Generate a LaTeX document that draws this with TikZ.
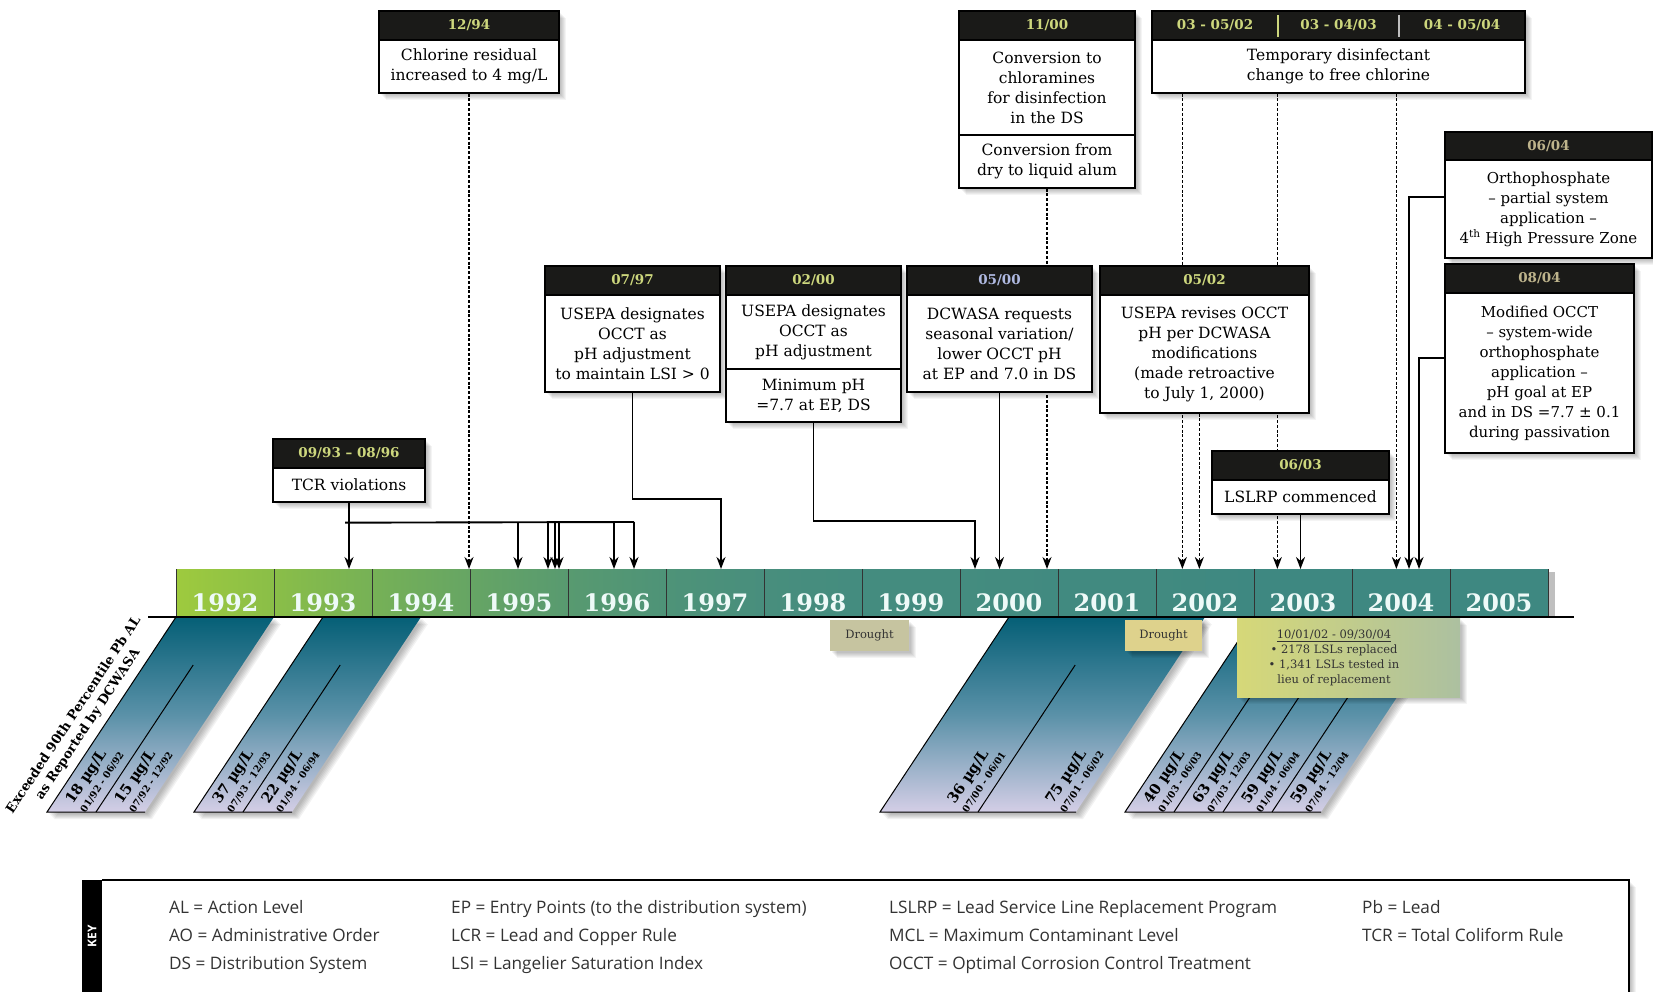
\documentclass[tikz,border=0pt]{standalone}
\usepackage{fontspec}
\setmainfont{DejaVu Serif}
\newfontfamily\keyfont{Open Sans}
\usetikzlibrary{arrows.meta,calc}
\pgfdeclarelayer{bg}
\pgfsetlayers{bg,main}
\definecolor{hdr}{RGB}{26,26,24}
\definecolor{hdrtxt}{RGB}{205,215,125}
\definecolor{hdrblue}{RGB}{175,185,225}
\definecolor{hdrmuted}{RGB}{190,180,140}
\definecolor{yr}{RGB}{238,250,248}
\definecolor{c0}{RGB}{158,202,62}
\definecolor{c1}{RGB}{138,190,72}
\definecolor{c2}{RGB}{118,177,86}
\definecolor{c3}{RGB}{102,165,100}
\definecolor{c4}{RGB}{88,154,112}
\definecolor{c5}{RGB}{78,147,120}
\definecolor{c6}{RGB}{72,142,125}
\definecolor{c7}{RGB}{68,140,127}
\definecolor{c8}{RGB}{65,138,128}
\definecolor{c9}{RGB}{62,136,129}
\definecolor{pTop}{RGB}{5,95,118}
\definecolor{pMid}{RGB}{90,145,168}
\definecolor{pBot}{RGB}{212,206,230}
\definecolor{dr1}{RGB}{198,196,160}
\definecolor{dr2}{RGB}{222,210,140}
\definecolor{lslL}{RGB}{214,216,120}
\definecolor{lslR}{RGB}{172,192,160}
\tikzset{
  hdrbox/.style={draw=black,line width=1.3pt,fill=hdr,inner sep=0pt,font=\fontsize{13.5}{15}\selectfont\bfseries},
  bodybox/.style={draw=black,line width=1.3pt,fill=white,inner sep=0pt,align=center,font=\fontsize{15.5}{20}\selectfont},
  hdrtext/.style={inner sep=0pt,text=hdrtxt,font=\fontsize{13.5}{15}\selectfont\bfseries},
  conn/.style={line width=1.9pt,-{Stealth[length=12pt,width=9pt]}},
  dconn/.style={line width=1.7pt,dash pattern=on 3pt off 1.8pt,-{Stealth[length=12pt,width=9pt]}},
  plainline/.style={line width=1.9pt},
  yeartxt/.style={anchor=base,inner sep=0pt,text=yr,font=\fontsize{24}{24}\selectfont\bfseries},
  bandtxt/.style={rotate=56.5,align=left,inner sep=0pt,font=\fontsize{14.5}{15}\selectfont\bfseries},
  droughtbox/.style={inner sep=0pt,font=\fontsize{11.5}{13}\selectfont,text=black!80},
  keytxt/.style={anchor=base west,inner sep=0pt,text=black!80,font=\keyfont\fontsize{17.2}{18}\selectfont},
}
\newcommand\softshadow[4]{%
  \foreach \sd in {2,...,7}{%
    \fill[black,opacity=0.045] ({#1+\sd},{#2+\sd}) rectangle ({#3+\sd},{#4+\sd});
  }%
}
\newcommand\evbox[9]{%
  \node[hdrbox,text=#7,minimum width={(#3-#2)*1pt},minimum height={(#5-#4)*1pt}] (#1h) at ({(#2+#3)/2},{(#4+#5)/2}) {#8};
  \node[bodybox,minimum width={(#3-#2)*1pt},minimum height={(#6-#5)*1pt}] (#1) at ({(#2+#3)/2},{(#5+#6)/2}) {#9};
}
\newcommand\para[2]{%
  \foreach \sd in {2,...,7}{%
    \fill[black,opacity=0.05] ({#1+\sd},{617+\sd}) -- ({#2+\sd},{617+\sd}) -- ({#2-129+\sd},{812+\sd}) -- ({#1-129+\sd},{812+\sd}) -- cycle;
  }%
  \path[top color=pTop,bottom color=pBot,middle color=pMid] (#1,617) -- (#2,617) -- ({#2-129},812) -- ({#1-129},812) -- cycle;
  \draw[line width=1pt] (#1,617) -- ({#1-129},812) -- ({#2-129},812);
}
\newcommand\pdiv[1]{\draw[line width=1pt] ({#1-31.8},665) -- ({#1-129},812);}
\newcommand\band[4]{%
  \node[bandtxt] (#1) at ({#2-130.5},777) {#3~µg/L\\{\fontsize{9.5}{11}\selectfont #4}};
}
\begin{document}
\begin{tikzpicture}[x=1pt,y=-1pt]
\useasboundingbox (0,0) rectangle (1653,992);

% ---------- event boxes ----------
\softshadow{379}{11}{559}{93}
\evbox{A}{379}{559}{11}{40}{93}{hdrtxt}{12/94}{Chlorine residual\\increased to 4 mg/L}

\softshadow{959}{11}{1135}{188}
\evbox{B}{959}{1135}{11}{40}{135}{hdrtxt}{11/00}{Conversion to\\chloramines\\for disinfection\\in the DS}
\node[bodybox,minimum width=176pt,minimum height=53pt] (B2) at (1047,161.5) {Conversion from\\dry to liquid alum};

\softshadow{1152}{11}{1525}{93}
\evbox{C}{1152}{1525}{11}{40}{93}{hdrtxt}{}{Temporary disinfectant\\change to free chlorine}
\node[hdrtext] (Ch1) at (1215,25.5) {03 - 05/02};
\node[hdrtext] (Ch2) at (1338.5,25.5) {03 - 04/03};
\node[hdrtext] (Ch3) at (1462,25.5) {04 - 05/04};
\draw[hdrtxt,line width=1.2pt] (1278,15) -- (1278,37);
\draw[white!75!black,line width=1.2pt] (1399,15) -- (1399,37);

\begin{scope}[bodybox/.append style={font=\fontsize{15}{20}\selectfont}]
\softshadow{1445}{132}{1652}{258}
\evbox{D}{1445}{1652}{132}{160}{258}{hdrmuted}{06/04}{Orthophosphate\\– partial system\\application –\\4\textsuperscript{th} High Pressure Zone}
\softshadow{1445}{264}{1634}{453}
\evbox{E}{1445}{1634}{264}{293}{453}{hdrmuted}{08/04}{Modified OCCT\\– system-wide\\orthophosphate\\application –\\pH goal at EP\\and in DS =7.7 ± 0.1\\during passivation}
\end{scope}

\softshadow{545}{266}{720}{392}
\evbox{F}{545}{720}{266}{295}{392}{hdrtxt}{07/97}{USEPA designates\\OCCT as\\pH adjustment\\to maintain LSI > 0}

\softshadow{726}{266}{901}{422}
\evbox{G}{726}{901}{266}{295}{369}{hdrtxt}{02/00}{USEPA designates\\OCCT as\\pH adjustment}
\node[bodybox,minimum width=175pt,minimum height=53pt] (G2) at (813.5,395.5) {Minimum pH\\=7.7 at EP, DS};

\softshadow{907}{266}{1092}{392}
\evbox{H}{907}{1092}{266}{295}{392}{hdrblue}{05/00}{DCWASA requests\\seasonal variation/\\lower OCCT pH\\at EP and 7.0 in DS}

\softshadow{1100}{266}{1309}{413}
\evbox{I}{1100}{1309}{266}{295}{413}{hdrtxt}{05/02}{USEPA revises OCCT\\pH per DCWASA\\modifications\\(made retroactive\\to July 1, 2000)}

\softshadow{273}{439}{425}{502}
\evbox{J}{273}{425}{439}{468}{502}{hdrtxt}{09/93 – 08/96}{TCR violations}

\softshadow{1212}{451}{1389}{514}
\evbox{K}{1212}{1389}{451}{480}{514}{hdrtxt}{06/03}{LSLRP commenced}

% ---------- timeline bar and connectors (background) ----------
\coordinate (tltop) at (0,569);
\begin{pgfonlayer}{bg}
\fill[white] (0,0) rectangle (1653,992);
\fill[black,opacity=0.25] (1548,572) rectangle (1555,618);
\foreach \i/\ca/\cb in {0/c0/c1,1/c1/c2,2/c2/c3,3/c3/c4,4/c4/c5,5/c5/c6,6/c6/c7,7/c7/c7,8/c7/c8,9/c8/c8,10/c8/c9,11/c9/c9,12/c9/c9,13/c9/c9}{
  \path[left color=\ca,right color=\cb] ({176+98*\i},569) rectangle ({274+98*\i},617);
}
\foreach \i in {0,...,14}{
  \draw[black!80,line width=1pt] ({176+98*\i},569) -- ({176+98*\i},617);
}
\foreach \i [evaluate=\i as \yrn using int(1992+\i)] in {0,...,13}{
  \node[yeartxt] (yr\i) at ({225+98*\i},611) {\yrn};
}
% dashed connectors
\draw[dconn] (A.south) -- (A.south |- tltop);
\draw[dconn] (B2.south) -- (B2.south |- tltop);
\coordinate (c1) at ($(C.south west)+(31,0)$);
\coordinate (c2) at ($(C.south west)+(126,0)$);
\coordinate (c3) at ($(C.south west)+(245,0)$);
\draw[dconn] (c1) -- (c1 |- tltop);
\draw[dconn] (c2) -- (c2 |- tltop);
\draw[dconn] (c3) -- (c3 |- tltop);
\coordinate (i1) at ($(I.south west)+(100,0)$);
\draw[dconn] (i1) -- (i1 |- tltop);
% solid connectors
\draw[conn] (H.south) -- (H.south |- tltop);
\draw[conn] (K.south) -- (K.south |- tltop);
\coordinate (d1) at ($(D.west)+(0,-12)$);
\coordinate (d2) at (1409,0);
\draw[conn] (d1) -- (d1 -| d2) -- (d2 |- tltop);
\coordinate (e1) at ($(E.west)+(0,-15)$);
\coordinate (e2) at (1419,0);
\draw[conn] (e1) -- (e1 -| e2) -- (e2 |- tltop);
\coordinate (f2) at (721,499);
\draw[conn] (F.south) |- (f2) -- (f2 |- tltop);
\coordinate (g2) at (975,521);
\draw[conn] (G2.south) |- (g2) -- (g2 |- tltop);
% TCR distribution
\coordinate (tb) at ($(J.south)+(0,20)$);
\coordinate (tbR) at (634,522);
\draw[conn] (J.south) -- (J.south |- tltop);
\draw[plainline] ($(J.south |- tb)+(-4,0)$) -- (tbR);
\foreach \x in {518,548,555,559,614,634}{
  \coordinate (tcr\x) at (\x,522);
  \draw[conn] (tcr\x) -- (tcr\x |- tltop);
}
\end{pgfonlayer}

% ---------- lead level parallelograms ----------
\para{176}{274}\pdiv{225}
\band{b1}{225}{18}{01/92 - 06/92}
\band{b2}{274}{15}{07/92 - 12/92}
\para{323}{421}\pdiv{372}
\band{b3}{372}{37}{07/93 - 12/93}
\band{b4}{421}{22}{01/94 - 06/94}
\para{1009}{1205}\pdiv{1107}
\band{b5}{1107}{36}{07/00 - 06/01}
\band{b6}{1205}{75}{07/01 - 06/02}
\para{1254}{1450}\pdiv{1303}\pdiv{1352}\pdiv{1401}
\band{b7}{1303}{40}{01/03 - 06/03}
\band{b8}{1352}{63}{07/03 - 12/03}
\band{b9}{1401}{59}{01/04 - 06/04}
\band{b10}{1450}{59}{07/04 - 12/04}

\node[rotate=56.5,align=center,inner sep=0pt,font=\fontsize{13}{17}\selectfont\bfseries] (exlbl) at (81,720) {Exceeded 90th Percentile Pb AL\\as Reported by DCWASA};

% ---------- drought and LSL boxes ----------
\softshadow{830}{620}{909}{651}
\node[droughtbox,fill=dr1,minimum width=79pt,minimum height=31pt] (dr98) at (869.5,635.5) {Drought};
\softshadow{1125}{620}{1202}{651}
\node[droughtbox,fill=dr2,minimum width=77pt,minimum height=31pt] (dr02) at (1163.5,635.5) {Drought};
\softshadow{1237}{618}{1460}{697}
\path[left color=lslL,right color=lslR] (1237,618) rectangle (1460,697);
\node[inner sep=0pt,align=center,font=\fontsize{11.5}{15}\selectfont,text=black!80] (lsl) at (1334,658) {\underline{10/01/02 - 09/30/04}\\• 2178 LSLs replaced\\• 1,341 LSLs tested in\\lieu of replacement};

% ---------- axis line ----------
\draw[line width=1.5pt] (148,617) -- (1574,617);

% ---------- key ----------
\softshadow{82}{880}{1629}{1000}
\fill[white] (102,880) rectangle (1629,1000);
\draw[line width=1.5pt] (102,880) -- (1629,880) -- (1629,1000);
\node[fill=black,minimum width=20pt,minimum height=120pt,anchor=north west,inner sep=0pt] (keystrip) at (82,880) {};
\node[text=white,rotate=90,inner sep=0pt,font=\keyfont\bfseries\fontsize{12}{12}\selectfont] (keylbl) at (92,936) {KEY};
\node[keytxt] (k1) at (169,913) {AL = Action Level};
\node[keytxt] (k2) at (169,941) {AO = Administrative Order};
\node[keytxt] (k3) at (169,969) {DS = Distribution System};
\node[keytxt] (k4) at (451,913) {EP = Entry Points (to the distribution system)};
\node[keytxt] (k5) at (451,941) {LCR = Lead and Copper Rule};
\node[keytxt] (k6) at (451,969) {LSI = Langelier Saturation Index};
\node[keytxt] (k7) at (889,913) {LSLRP = Lead Service Line Replacement Program};
\node[keytxt] (k8) at (889,941) {MCL = Maximum Contaminant Level};
\node[keytxt] (k9) at (889,969) {OCCT = Optimal Corrosion Control Treatment};
\node[keytxt] (k10) at (1362,913) {Pb = Lead};
\node[keytxt] (k11) at (1362,941) {TCR = Total Coliform Rule};
\end{tikzpicture}
\end{document}
